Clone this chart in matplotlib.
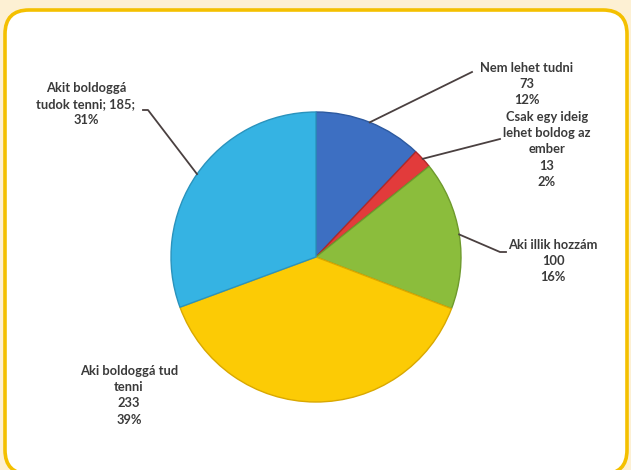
import numpy as np
import matplotlib
matplotlib.use("Agg")
import matplotlib.pyplot as plt
from matplotlib.patches import FancyBboxPatch

# data
labels = ["Nem lehet tudni", "Csak egy ideig\nlehet boldog az\nember", "Aki illik hozzám",
          "Aki boldoggá tud\ntenni", "Akit boldoggá\ntudok tenni"]
values = [73, 13, 100, 233, 185]
percents = ["12%", "2%", "16%", "39%", "31%"]
colors = ["#3d6fc2", "#e23b3b", "#8bbd3c", "#fccb05", "#35b3e3"]
edges = ["#2d5aa0", "#b02828", "#6e9a2c", "#d9a800", "#2a93bd"]

W, H = 631, 470
fig = plt.figure(figsize=(W / 100, H / 100), dpi=100)
fig.patch.set_facecolor("#fdf0d3")
ax = fig.add_axes([0, 0, 1, 1])
ax.set_facecolor("none")

# rounded white panel with yellow border
box = FancyBboxPatch((5, -4), 622, 471 - 7, boxstyle="round,pad=0,rounding_size=24",
                     facecolor="white", edgecolor="#f4c000", linewidth=2.6, zorder=0)
ax.add_patch(box)

cx, cy, r = 316, H - 257, 145
wedges, _ = ax.pie(values, colors=colors, startangle=90, counterclock=False,
                   center=(cx, cy), radius=r, frame=True,
                   wedgeprops=dict(linewidth=1.0, zorder=2))
for w, ec in zip(wedges, edges):
    w.set_edgecolor(ec)

ax.set_xlim(0, W)
ax.set_ylim(0, H)
ax.axis("off")

# label texts
texts = [
    f"{labels[0]}\n{values[0]}\n{percents[0]}",
    f"{labels[1]}\n{values[1]}\n{percents[1]}",
    f"{labels[2]}\n{values[2]}\n{percents[2]}",
    f"{labels[3]}\n{values[3]}\n{percents[3]}",
    f"{labels[4]}; {values[4]};\n{percents[4]}",
]
text_pos = [(527, 62), (547, 111), (553, 239), (129, 365), (86, 82)]
# leader line end points (None = no leader)
leader_end = [[(472, 72)], [(500, 139)], [(500, 252), (506, 252)], None, [(148, 110), (143, 110)]]

fracs = np.array(values) / sum(values)
cum = np.concatenate([[0], np.cumsum(fracs)])
for i, t in enumerate(texts):
    x, y = text_pos[i]
    ax.text(x, H - y, t, ha="center", va="top", fontsize=9.3, fontweight="bold",
            family=["Lato", "DejaVu Sans"], color="#3a3a3a", linespacing=1.42, zorder=4)
    if leader_end[i] is None:
        continue
    mid = np.deg2rad(90 - 360 * (cum[i] + cum[i + 1]) / 2)
    px, py = cx + r * np.cos(mid), cy + r * np.sin(mid)
    xs = [px] + [p[0] for p in leader_end[i]]
    ys = [py] + [H - p[1] for p in leader_end[i]]
    ax.plot(xs, ys, color="#4a4040", linewidth=1.3, zorder=3)

fig.savefig("out.png", dpi=100, facecolor=fig.get_facecolor())
